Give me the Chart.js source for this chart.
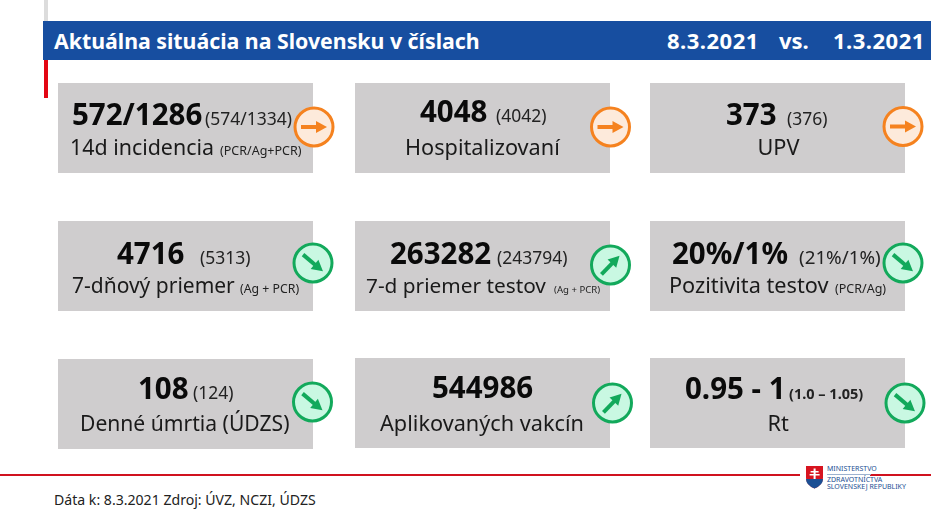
<!DOCTYPE html>
<html lang="sk">
<head>
  <meta charset="UTF-8">
  <title>Aktuálna situácia na Slovensku v číslach</title>
  <script src="https://cdn.jsdelivr.net/npm/chart.js"></script>
  <style>
    html, body { margin: 0; padding: 0; background: #fff; overflow: hidden; }
    body { width: 946px; height: 519px; position: relative; font-family: "Noto Sans", sans-serif; }
    .abs { position: absolute; }
    #bandLeft { left: 44px; top: 0; width: 4px; height: 21px; background: #dcdcdc; }
    #bandRed { left: 44px; top: 60px; width: 4px; height: 38px; background: #e30613; }
    #band { left: 43px; top: 21px; width: 888px; height: 39px; background: #174ea0; }
    .head { color: #fff; font-weight: 700; white-space: nowrap; line-height: 39px; top: 21px; font-size: 22px; }
    #rule { left: 0; top: 474px; width: 931px; height: 2px; background: #d0121f; }
    #logoGap { left: 800px; top: 462px; width: 70px; height: 30px; background: #fff; }
    #source { left: 54px; top: 490px; font-size: 14.1px; line-height: 20px; color: #222; white-space: nowrap; }
    .logo { left: 827px; color: #1c4f94; font-size: 7px; line-height: 8px; white-space: nowrap; }
    #chart { position: absolute; left: 0; top: 0; }
  </style>
</head>
<body>
  <div class="abs" id="bandLeft"></div>
  <div class="abs" id="band"></div>
  <div class="abs" id="bandRed"></div>
  <div class="abs head" style="left:54px;font-size:21.3px">Aktuálna situácia na Slovensku v číslach</div>
  <div class="abs head" style="left:667px;letter-spacing:.5px">8.3.2021</div>
  <div class="abs head" style="left:779px">vs.</div>
  <div class="abs head" style="left:833px;letter-spacing:.5px">1.3.2021</div>
  <div class="abs" id="rule"></div>
  <div class="abs" id="logoGap"></div>
  <svg class="abs" style="left:806px;top:466px" width="18" height="23" viewBox="0 0 18 23">
    <path d="M0 0H17V12Q17 19 8.5 22.5Q0 19 0 12Z" fill="#d7141f"/>
    <path d="M0 13H17Q17 19 8.5 22.5Q0 19 0 13Z" fill="#1c4f94"/>
    <path d="M7.6 2.5h2V5h3v1.6h-3v1.4h4v1.6h-4V13h-2V9.6h-4V8h4V6.6h-3V5h3Z" fill="#fff"/>
  </svg>
  <div class="abs logo" style="top:465px">MINISTERSTVO</div>
  <div class="abs" style="left:827px;top:474px;width:44px;height:1px;background:#9db2cf"></div>
  <div class="abs logo" style="top:476px">ZDRAVOTNÍCTVA</div>
  <div class="abs logo" style="top:483px">SLOVENSKEJ REPUBLIKY</div>
  <div class="abs" id="source">Dáta k: 8.3.2021 Zdroj: ÚVZ, NCZI, ÚDZS</div>
  <canvas id="chart" width="946" height="519"></canvas>
  <script>
    const columns = ['a', 'b', 'c'];
    const rows = ['1', '2', '3'];
    const currentValues = ['572/1286', '4048', '373', '4716', '263282', '20%/1%', '108', '544986', '0.95 - 1'];
    const previousValues = ['(574/1334)', '(4042)', '(376)', '(5313)', '(243794)', '(21%/1%)', '(124)', '', '(1.0 – 1.05)'];
    const cardLabels = ['14d incidencia', 'Hospitalizovaní', 'UPV', '7-dňový priemer', '7-d priemer testov', 'Pozitivita testov', 'Denné úmrtia (ÚDZS)', 'Aplikovaných vakcín', 'Rt'];
    const labelNotes = ['(PCR/Ag+PCR)', '', '', '(Ag + PCR)', '(Ag + PCR)', '(PCR/Ag)', '', '', ''];
    const trends = ['flat', 'flat', 'flat', 'down', 'up', 'down', 'down', 'up', 'down'];

    // the slide's cards are not on a perfectly even grid
    const cardDx = [0, 1, 0, 0, 1, 0, 0, 1, 0];
    const cardDy = [0, 0, 0, 0.5, 0.5, 0.5, 1, 0, 0];

    // text starts relative to the card centre
    const valueDx = [-113.5, -62.5, -51.5, -68.5, -92.5, -105.5, -47.5, -50.5, -92.5];
    const prevDx = [19.5, 13.5, 9.5, 14.5, 14.5, 21.5, 7.5, 0, 11.5];
    const labelDx = [-115.5, -77.5, -20, -113.5, -116.5, -108.5, -105.5, -102.5, -10];
    const noteDx = [34.5, 0, 0, 54.5, 71.5, 57.5, 0, 0, 0];
    const prevSize = [17.5, 17.5, 17.5, 17.5, 17.5, 18.8, 17.5, 0, 14.5];
    const labelSize = [21.4, 21.7, 21.7, 21, 20.8, 21.7, 21.1, 21.7, 21.7];
    const noteSize = [12.5, 0, 0, 12.3, 9.6, 12.5, 0, 0, 0];
    const valueDy = [-3, -6.5, -3, -2, -2, -2, -5, -5, -4];
    const labelDy = [27, 27, 27, 27, 27, 27, 27, 27.5, 28];
    const badgeDx = [128.5, 128, 125.5, 127.5, 128, 125.5, 127, 130, 127.5];
    const badgeDy = [-1, -1, -1.5, -3, -1, -3, -2, 0, 0];

    const trendStyle = {
      flat: { stroke: '#f5821f', fill: '#fdeadb', angle: 0 },
      down: { stroke: '#12a95b', fill: '#c9f8e2', angle: 40 },
      up: { stroke: '#12a95b', fill: '#c9f8e2', angle: -46 }
    };

    function cardImage(dx, dy) {
      const c = document.createElement('canvas');
      c.width = 255 + 2 * dx;
      c.height = 90 + 2 * dy;
      const g = c.getContext('2d');
      g.fillStyle = '#cfcdce';
      g.fillRect(2 * dx, 2 * dy, 255, 90);
      return c;
    }

    function drawBadge(ctx, x, y, trend) {
      const s = trendStyle[trend];
      ctx.save();
      ctx.translate(x, y);
      ctx.beginPath();
      ctx.arc(0, 0, 19, 0, Math.PI * 2);
      ctx.fillStyle = s.fill;
      ctx.fill();
      ctx.lineWidth = 3;
      ctx.strokeStyle = s.stroke;
      ctx.stroke();
      ctx.rotate(s.angle * Math.PI / 180);
      ctx.fillStyle = s.stroke;
      ctx.fillRect(-13, -2, 16, 4);
      ctx.beginPath();
      ctx.moveTo(2, -6);
      ctx.lineTo(13, 0);
      ctx.lineTo(2, 6);
      ctx.closePath();
      ctx.fill();
      ctx.restore();
    }

    function put(ctx, text, x, y, font, color) {
      ctx.font = font;
      ctx.fillStyle = color;
      ctx.fillText(text, x, y);
    }

    const cardText = {
      id: 'cardText',
      afterDatasetsDraw(chart) {
        const ctx = chart.ctx;
        ctx.save();
        ctx.textBaseline = 'alphabetic';
        ctx.textAlign = 'left';
        chart.getDatasetMeta(0).data.forEach((pt, i) => {
          const f = '"Noto Sans", sans-serif';
          const cx = pt.x + cardDx[i];
          const cy = pt.y + cardDy[i];
          put(ctx, currentValues[i], cx + valueDx[i], cy + valueDy[i], '700 29.5px ' + f, '#0a0a0a');
          if (previousValues[i]) {
            const font = (i === 8 ? '700 ' : '400 ') + prevSize[i] + 'px ';
            put(ctx, previousValues[i], cx + prevDx[i], cy + valueDy[i], font + f, '#222');
          }
          put(ctx, cardLabels[i], cx + labelDx[i], cy + labelDy[i], '400 ' + labelSize[i] + 'px ' + f, '#1a1a1a');
          if (labelNotes[i]) {
            put(ctx, labelNotes[i], cx + noteDx[i], cy + labelDy[i], '400 ' + noteSize[i] + 'px ' + f, '#222');
          }
          drawBadge(ctx, cx + badgeDx[i], cy + badgeDy[i], trends[i]);
        });
        ctx.restore();
      }
    };

    const points = [];
    rows.forEach(r => columns.forEach(c => points.push({ x: c, y: r })));

    new Chart(document.getElementById('chart').getContext('2d'), {
      type: 'scatter',
      data: {
        datasets: [{
          data: points,
          pointStyle: c => cardImage(cardDx[c.dataIndex] || 0, cardDy[c.dataIndex] || 0),
          clip: false
        }]
      },
      options: {
        responsive: false,
        animation: false,
        events: [],
        layout: { padding: { left: 37.5, right: 20.5, top: 59.25, bottom: 47.25 } },
        plugins: { legend: { display: false }, tooltip: { enabled: false } },
        scales: {
          x: { type: 'category', labels: columns, offset: true, display: false },
          y: { type: 'category', labels: rows, offset: true, display: false }
        }
      },
      plugins: [cardText]
    });
  </script>
</body>
</html>
